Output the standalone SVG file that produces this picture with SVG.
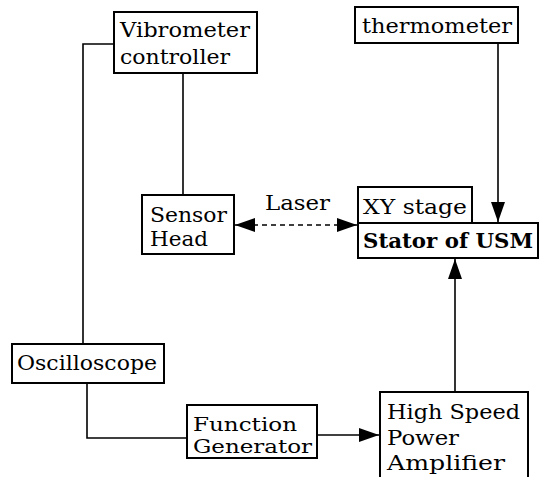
<svg xmlns="http://www.w3.org/2000/svg" width="544" height="477" viewBox="0 0 544 477">
<style>
.box{fill:#fff;stroke:#000;stroke-width:2}
.t{font-family:"DejaVu Serif","Liberation Serif",serif;font-size:20px;fill:#000}
.s{font-size:18.5px}
.b{font-weight:bold}
.c{fill:none;stroke:#000;stroke-width:1.6}
.d{stroke-dasharray:5,4}
</style>
<defs>
<marker id="ah" viewBox="0 0 20 14" refX="20" refY="7" markerWidth="20" markerHeight="14" markerUnits="userSpaceOnUse" orient="auto-start-reverse">
<path d="M0,0 L20,7 L0,14 Z" fill="#000"/>
</marker>
</defs>
<rect width="544" height="477" fill="#fff"/>
<g id="connectors">
<polyline class="c" points="114,44 83,44 83,344"/>
<polyline class="c" points="87,383 87,438 187,438"/>
<line class="c" x1="183" y1="73" x2="183" y2="195"/>
<line class="c d" x1="235" y1="225" x2="357" y2="225" marker-start="url(#ah)" marker-end="url(#ah)"/>
<line class="c" x1="498" y1="43" x2="498" y2="222" marker-end="url(#ah)"/>
<line class="c" x1="455" y1="392" x2="455" y2="259" marker-end="url(#ah)"/>
<line class="c" x1="317" y1="435" x2="379" y2="435" marker-end="url(#ah)"/>
<text class="t" x="265" y="210" textLength="65" lengthAdjust="spacingAndGlyphs">Laser</text>
</g>
<g id="vibrometer">
<rect class="box" x="114" y="12" width="143" height="61"/>
<text class="t" x="120" y="37" textLength="130" lengthAdjust="spacingAndGlyphs">Vibrometer</text>
<text class="t" x="120" y="64" textLength="110" lengthAdjust="spacingAndGlyphs">controller</text>
</g>
<g id="thermometer">
<rect class="box" x="355" y="7" width="163" height="36"/>
<text class="t" x="362" y="33" textLength="150" lengthAdjust="spacingAndGlyphs">thermometer</text>
</g>
<g id="sensor">
<rect class="box" x="142" y="195" width="92" height="59"/>
<text class="t" x="150" y="222" textLength="77" lengthAdjust="spacingAndGlyphs">Sensor</text>
<text class="t" x="150" y="246" textLength="58" lengthAdjust="spacingAndGlyphs">Head</text>
</g>
<g id="xystage">
<rect class="box" x="358" y="187" width="114" height="36"/>
<text class="t" x="363" y="214" textLength="104" lengthAdjust="spacingAndGlyphs">XY stage</text>
</g>
<g id="stator">
<rect class="box" x="358" y="223" width="180" height="35"/>
<text class="t b" x="363" y="248" textLength="170" lengthAdjust="spacingAndGlyphs">Stator of USM</text>
</g>
<g id="oscilloscope">
<rect class="box" x="12" y="344" width="152" height="39"/>
<text class="t" x="17" y="370" textLength="140" lengthAdjust="spacingAndGlyphs">Oscilloscope</text>
</g>
<g id="function">
<rect class="box" x="187" y="405" width="130" height="53"/>
<text class="t s" x="193" y="431" textLength="104" lengthAdjust="spacingAndGlyphs">Function</text>
<text class="t s" x="193" y="453" textLength="119" lengthAdjust="spacingAndGlyphs">Generator</text>
</g>
<g id="amplifier">
<rect class="box" x="380" y="392" width="148" height="100"/>
<text class="t" x="387" y="419" textLength="133" lengthAdjust="spacingAndGlyphs">High Speed</text>
<text class="t" x="387" y="445" textLength="72" lengthAdjust="spacingAndGlyphs">Power</text>
<text class="t" x="387" y="470" textLength="118" lengthAdjust="spacingAndGlyphs">Amplifier</text>
</g>
</svg>
